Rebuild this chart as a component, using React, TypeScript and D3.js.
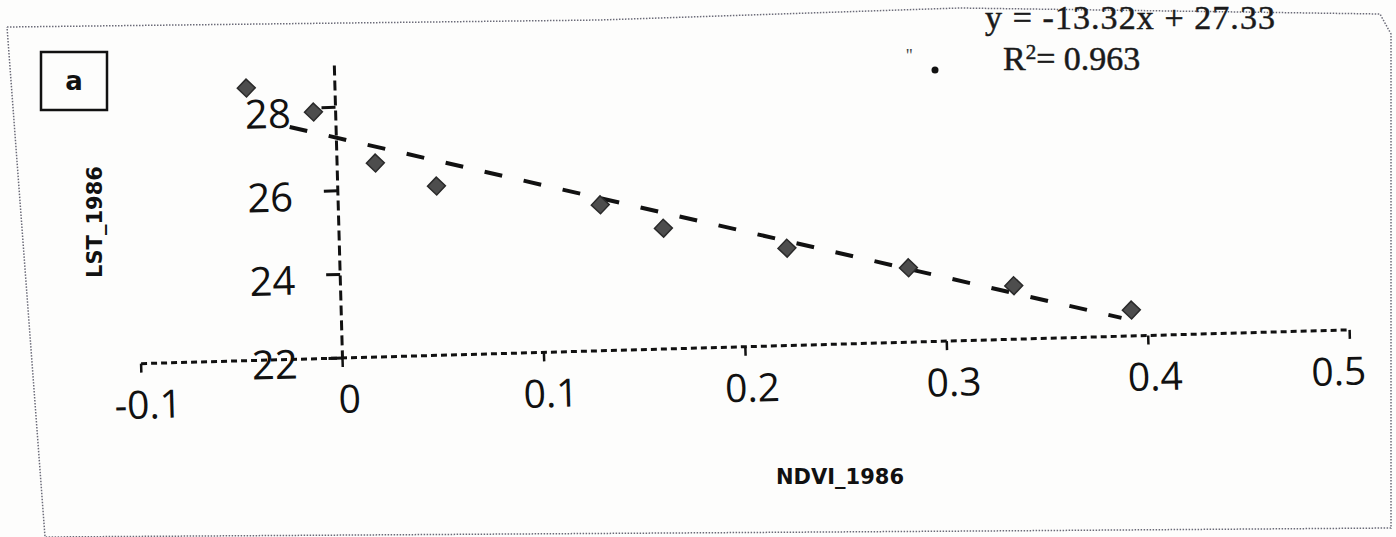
import React from 'react';
import * as d3 from 'd3';

// values
const ndvi = [-0.044, -0.011, 0.019, 0.049, 0.13, 0.161, 0.222, 0.282, 0.334, 0.392];
const lst = [28.52, 27.9, 26.64, 26.05, 25.49, 24.89, 24.33, 23.78, 23.28, 22.62];
const xTicks = [-0.1, 0, 0.1, 0.2, 0.3, 0.4, 0.5];
const yTicks = [22, 24, 26, 28];
// trend line ends as drawn in the scan (ndvi, lst)
const trendX = [-0.023, 0.387];
const trendY = [27.56, 22.44];
const trendSlope = -13.32;
const trendIntercept = 27.33;
const rSquared = 0.963;

const W = 1396;
const H = 537;

export default function App() {
  const x = d3.scaleLinear().domain([-0.1, 0.5]).range([141, 1350]);
  const y = d3.scaleLinear().domain([22, 29]).range([358, 358 - 7 * 41.8]);

  const x0 = x(0);
  const y0 = y(22);

  const trend = d3
    .line<number>()
    .x((d) => x(trendX[d]))
    .y((d) => y(trendY[d]))([0, 1]);

  const diamond = d3.symbol().type(d3.symbolSquare).size(160)();

  const tickFont = "'Open Sans', 'Noto Sans', sans-serif";
  const eqFont = "'Liberation Serif', 'DejaVu Serif', serif";

  // scanned page border, slightly warped
  const frame = d3.line()([
    [7, 27], [600, 20], [960, 8], [1380, 14], [1391, 34], [1391, 528], [980, 531], [45, 537], [7, 27],
  ]);

  return (
    <svg
      width={W}
      height={H}
      style={{ position: 'absolute', left: 0, top: 0, background: '#fdfdfc' }}
    >
      <path d={frame ?? ''} fill="none" stroke="#6b6b78" strokeWidth={1.5} strokeDasharray="1.5 1.5" />

      {/* panel label */}
      <rect x={41} y={52} width={66} height={58} fill="none" stroke="#111" strokeWidth={2.5} />
      <text x={74} y={90} textAnchor="middle" fontFamily="'DejaVu Sans', sans-serif" fontWeight="bold" fontSize={26} fill="#111">
        a
      </text>

      {/* equation */}
      <text x={985} y={29} fontFamily={eqFont} fontSize={34} textLength={290} fill="#1a1a1a" stroke="#1a1a1a" strokeWidth={0.5}>
        {`y =  -${Math.abs(trendSlope).toFixed(2)}x + ${trendIntercept.toFixed(2)}`}
      </text>
      <text x={1003} y={70} fontFamily={eqFont} fontSize={34} fill="#1a1a1a" stroke="#1a1a1a" strokeWidth={0.5}>
        R
        <tspan dy={-11} fontSize={21}>2</tspan>
        <tspan dy={11}>{`=  ${rSquared}`}</tspan>
      </text>
      <circle cx={935} cy={70} r={3.5} fill="#111" />
      <text x={906} y={62} fontFamily={eqFont} fontSize={18} fill="#444">''</text>

      {/* axis titles */}
      <text
        transform="translate(102,222) rotate(-90)"
        textAnchor="middle"
        fontFamily="'DejaVu Sans', sans-serif"
        fontWeight="bold"
        fontSize={21}
        fill="#111"
      >
        LST_1986
      </text>
      <text x={840} y={484} textAnchor="middle" fontFamily="'DejaVu Sans', sans-serif" fontWeight="bold" fontSize={21} fill="#111">
        NDVI_1986
      </text>

      <g transform={`rotate(-1.6 ${x0} ${y0})`}>
        {/* x axis */}
        <line
          x1={x(-0.1)}
          x2={x(0.5)}
          y1={y0}
          y2={y0}
          stroke="#111"
          strokeWidth={3}
          strokeDasharray="6 4"
        />
        {xTicks.map((t) => (
          <g key={`xt${t}`}>
            <line x1={x(t)} x2={x(t)} y1={y0} y2={y0 + 9} stroke="#111" strokeWidth={2.5} />
            <text
              x={x(t) + (t === 0.5 ? -12 : 6)}
              y={y0 + 55}
              textAnchor="middle"
              fontFamily={tickFont}
              fontSize={39}
              fill="#111"
            >
              {t}
            </text>
          </g>
        ))}

        {/* y axis */}
        <line
          x1={x0}
          x2={x0}
          y1={y(29)}
          y2={y0}
          stroke="#111"
          strokeWidth={3}
          strokeDasharray="10 5"
        />
        {yTicks.map((t) => (
          <g key={`yt${t}`}>
            <line x1={x0 - 14} x2={x0} y1={y(t)} y2={y(t)} stroke="#111" strokeWidth={3} />
            <text
              x={x0 - 45}
              y={y(t) + 19}
              textAnchor="end"
              fontFamily={tickFont}
              fontSize={40}
              fill="#111"
            >
              {t}
            </text>
          </g>
        ))}

        {/* linear trend */}
        <path d={trend ?? ''} fill="none" stroke="#111" strokeWidth={4} strokeDasharray="18 22" />

        {/* data points */}
        {ndvi.map((v, i) => (
          <path
            key={`p${i}`}
            d={diamond ?? ''}
            transform={`translate(${x(v)},${y(lst[i])}) rotate(45)`}
            fill="#4d4d4d"
            stroke="#2a2a2a"
            strokeWidth={1.5}
          />
        ))}
      </g>
    </svg>
  );
}
